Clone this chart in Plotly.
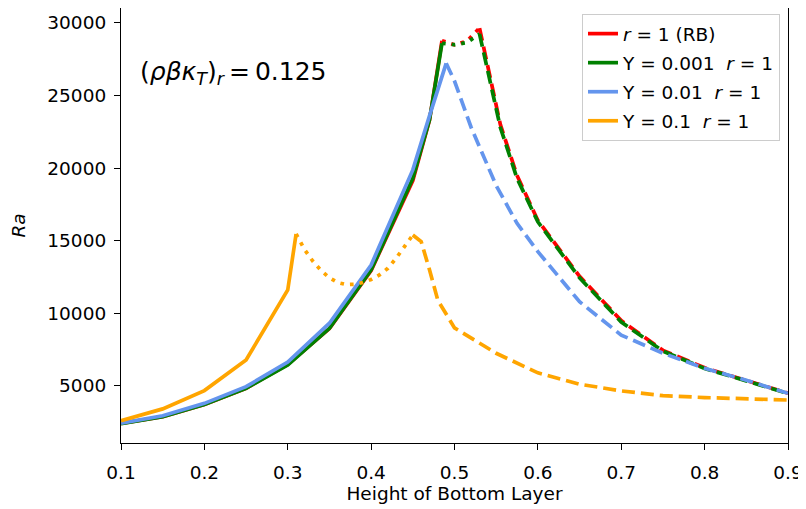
import plotly.graph_objects as go

# ---------------- data ----------------
# r = 1 (RB)  (red)
rb_x_solid = [0.1, 0.15, 0.2, 0.25, 0.3, 0.35, 0.4, 0.45, 0.47, 0.485]
rb_y_solid = [2420, 2880, 3730, 4840, 6480, 8950, 12950, 19150, 23300, 28780]
rb_x_dot = [0.485, 0.5, 0.515, 0.53]
rb_y_dot = [28780, 28500, 28750, 29650]
rb_x_dash = [0.53, 0.555, 0.575, 0.6, 0.65, 0.7, 0.75, 0.8, 0.85, 0.9]
rb_y_dash = [29650, 23000, 19500, 16400, 12550, 9500, 7450, 6250, 5380, 4500]

# Y = 0.001 r = 1 (green)
g_x_solid = [0.1, 0.15, 0.2, 0.25, 0.3, 0.35, 0.4, 0.45, 0.47, 0.485]
g_y_solid = [2400, 2880, 3730, 4840, 6450, 8970, 12990, 19300, 23320, 28600]
g_x_dot = [0.485, 0.5, 0.515, 0.53]
g_y_dot = [28600, 28500, 28650, 29250]
g_x_dash = [0.53, 0.555, 0.575, 0.6, 0.65, 0.7, 0.75, 0.8, 0.85, 0.9]
g_y_dash = [29250, 22800, 19300, 16300, 12450, 9400, 7400, 6200, 5350, 4480]

# Y = 0.01 r = 1 (blue)
b_x_solid = [0.1, 0.15, 0.2, 0.25, 0.3, 0.35, 0.4, 0.45, 0.47, 0.49]
b_y_solid = [2430, 2950, 3800, 4950, 6650, 9320, 13330, 19880, 23600, 27220]
b_x_dash = [0.49, 0.5, 0.52, 0.55, 0.575, 0.6, 0.65, 0.7, 0.75, 0.8, 0.85, 0.9]
b_y_dash = [27220, 26000, 22800, 18800, 16200, 14250, 10800, 8500, 7250, 6215, 5390, 4490]

# Y = 0.1 r = 1 (orange)
o_x_solid = [0.1, 0.15, 0.2, 0.25, 0.3, 0.31]
o_y_solid = [2610, 3420, 4680, 6790, 11610, 15470]
o_x_dot = [0.31, 0.32, 0.33, 0.34, 0.35, 0.36, 0.37, 0.38, 0.39, 0.40, 0.41, 0.42, 0.43, 0.44, 0.45]
o_y_dot = [15470, 14400, 13600, 12950, 12450, 12120, 11980, 12000, 12120, 12330, 12650, 13100, 13800, 14600, 15400]
o_x_dash = [0.45, 0.46, 0.47, 0.48, 0.5, 0.52, 0.55, 0.6, 0.65, 0.7, 0.75, 0.8, 0.85, 0.9]
o_y_dash = [15400, 14950, 13000, 10900, 9000, 8300, 7250, 5900, 5120, 4660, 4330, 4200, 4110, 4030]

SP = "\u2009"   # thin space
NB = "\u00a0"
names = [f"<i>r</i>{NB}={NB}1 (RB)",
         f"Y{NB}={NB}0.001{NB}{NB}<i>r</i>{NB}={NB}1",
         f"Y{NB}={NB}0.01{NB}{NB}<i>r</i>{NB}={NB}1",
         f"Y{NB}={NB}0.1{NB}{NB}<i>r</i>{NB}={NB}1"]
colors = ["#ff0000", "#008000", "#6495ED", "#FFA500"]

x_ticks = [0.1, 0.2, 0.3, 0.4, 0.5, 0.6, 0.7, 0.8, 0.9]
y_ticks = [5000, 10000, 15000, 20000, 25000, 30000]

# ---------------- figure ----------------
LW = 3.7
DASH = "13px,6px"
DOT = "3.7px,6px"

series = [
    (names[0], colors[0], [(rb_x_solid, rb_y_solid, "solid"), (rb_x_dot, rb_y_dot, DOT), (rb_x_dash, rb_y_dash, DASH)]),
    (names[1], colors[1], [(g_x_solid, g_y_solid, "solid"), (g_x_dot, g_y_dot, DOT), (g_x_dash, g_y_dash, DASH)]),
    (names[2], colors[2], [(b_x_solid, b_y_solid, "solid"), (b_x_dash, b_y_dash, DASH)]),
    (names[3], colors[3], [(o_x_solid, o_y_solid, "solid"), (o_x_dot, o_y_dot, DOT), (o_x_dash, o_y_dash, DASH)]),
]

fig = go.Figure()
for i, (name, col, segs) in enumerate(series):
    for j, (xs, ys, dash) in enumerate(segs):
        fig.add_trace(go.Scatter(
            x=xs, y=ys, mode="lines", name=name,
            legendgroup=f"g{i}", showlegend=(j == 0),
            line=dict(color=col, width=LW, dash=dash),
        ))

FONT = "DejaVu Sans"
# the page body adds an 8px offset, so the figure is 8px smaller and margins adjusted
fig.update_layout(
    width=798, height=501,
    margin=dict(l=113, r=18, t=0, b=66, autoexpand=False),
    paper_bgcolor="white", plot_bgcolor="white",
    font=dict(family=FONT, size=18.5, color="#000000"),
    showlegend=True,
    legend=dict(
        x=0.988, y=0.986, xanchor="right", yanchor="top",
        bgcolor="white", bordercolor="#cccccc", borderwidth=1,
        font=dict(family=FONT, size=18.5),
        tracegroupgap=2, traceorder="grouped",
    ),
    annotations=[dict(
        x=0.025, y=0.85, xref="paper", yref="paper",
        xanchor="left", yanchor="middle", showarrow=False,
        text="(<i>ρβκ</i><sub><i>T</i></sub>)<sub><i>r</i></sub>" + SP + "=" + SP + "0.125",
        font=dict(family=FONT, size=25),
    )],
)
fig.update_xaxes(
    range=[0.1, 0.9], tickvals=x_ticks, ticktext=[f"{v:.1f}" for v in x_ticks],
    showline=True, linecolor="black", linewidth=1.2, mirror=True,
    ticks="outside", ticklen=6, tickwidth=1.2, tickcolor="black",
    ticklabelstandoff=7,
    showgrid=False, zeroline=False,
    title=dict(text="Height of Bottom Layer", standoff=1, font=dict(size=18.5)),
    tickfont=dict(size=18.5),
)
fig.update_yaxes(
    range=[1070, 31030], tickvals=y_ticks, ticktext=[str(v) for v in y_ticks],
    showline=True, linecolor="black", linewidth=1.2, mirror=True,
    ticks="outside", ticklen=6, tickwidth=1.2, tickcolor="black",
    ticklabelstandoff=4,
    showgrid=False, zeroline=False,
    title=dict(text="<i>Ra</i>", standoff=16, font=dict(size=18.5)),
    tickfont=dict(size=18.5),
)

fig.write_html("out.html")
